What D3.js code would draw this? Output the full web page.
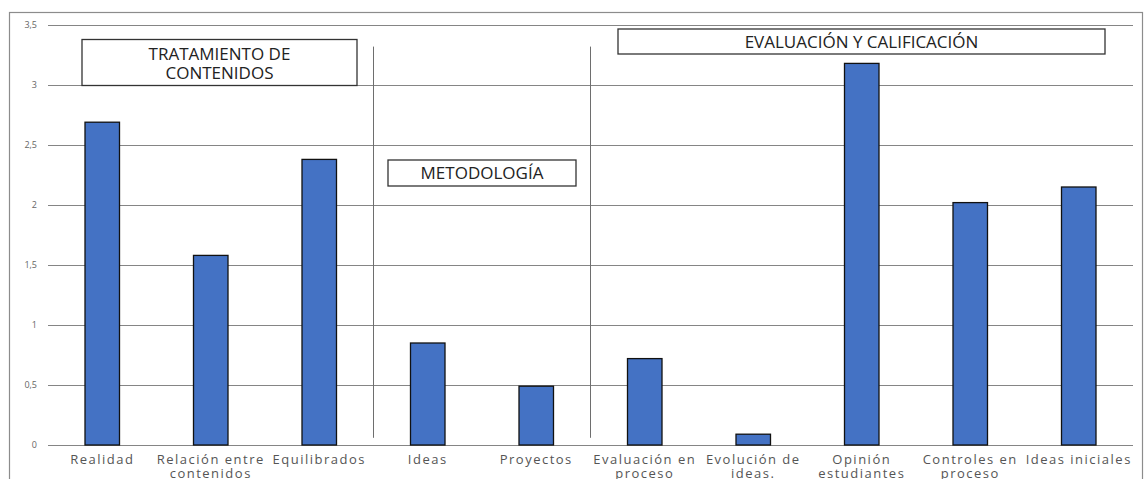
<!DOCTYPE html>
<html>
<head>
<meta charset="utf-8">
<script src="https://cdn.jsdelivr.net/npm/d3@7"></script>
<style>
  body { margin: 0; background: #fff; }
  svg { display: block; }
  .axis text { font-family: "Open Sans", sans-serif; }
  .y-axis text { font-size: 9px; fill: #666; }
  .x-label { font-family: "Open Sans", sans-serif; font-size: 13px; fill: #555; letter-spacing: 1.5px; }
  .box-label { font-family: "Open Sans", sans-serif; font-size: 17px; fill: #222; }
</style>
</head>
<body>
<svg id="chart"></svg>
<script>
// Chart data
const categories = [
  'Realidad', 'Relación entre contenidos', 'Equilibrados', 'Ideas', 'Proyectos',
  'Evaluación en proceso', 'Evolución de ideas.', 'Opinión estudiantes',
  'Controles en proceso', 'Ideas iniciales'
];
// labels broken in two lines like the original
const categoryLines = [
  ['Realidad'], ['Relación entre', 'contenidos'], ['Equilibrados'], ['Ideas'], ['Proyectos'],
  ['Evaluación en', 'proceso'], ['Evolución de', 'ideas.'], ['Opinión', 'estudiantes'],
  ['Controles en', 'proceso'], ['Ideas iniciales']
];
const values = [2.69, 1.58, 2.38, 0.85, 0.49, 0.72, 0.09, 3.18, 2.02, 2.15];
const yTicks = [0, 0.5, 1, 1.5, 2, 2.5, 3, 3.5];

// Group headings and the category after which a separator is drawn
const groupTitles = [['TRATAMIENTO DE', 'CONTENIDOS'], ['METODOLOGÍA'], ['EVALUACIÓN Y CALIFICACIÓN']];
const separatorAfter = ['Equilibrados', 'Proyectos'];

const config = {
  containerWidth: 1146,
  containerHeight: 479,
  margin: { top: 25, right: 13, bottom: 34, left: 48 }
};

const width = config.containerWidth - config.margin.left - config.margin.right;
const height = 445 - config.margin.top;

const svg = d3.select('#chart')
  .attr('width', config.containerWidth)
  .attr('height', config.containerHeight);

// outer frame (runs off the bottom/right like the screenshot)
svg.append('rect')
  .attr('x', 9.5).attr('y', 12.5)
  .attr('width', 1133).attr('height', 520)
  .attr('fill', 'none')
  .attr('stroke', '#8c8c8c')
  .attr('stroke-width', 1.2);

const chart = svg.append('g')
  .attr('transform', `translate(${config.margin.left},${config.margin.top})`);

// Scales
const xScale = d3.scaleBand()
  .domain(categories)
  .range([0, width])
  .paddingInner(0.682)
  .paddingOuter(0.341);

const yScale = d3.scaleLinear()
  .domain([0, 3.5])
  .range([height, 0]);

// Y axis with gridlines, comma decimals
const yAxis = d3.axisLeft(yScale)
  .tickValues(yTicks)
  .tickSize(-width)
  .tickPadding(11)
  .tickFormat(d => String(d).replace('.', ','));

chart.append('g')
  .attr('class', 'axis y-axis')
  .call(yAxis)
  .call(g => g.select('.domain').remove())
  .call(g => g.selectAll('.tick line').attr('stroke', '#858585').attr('stroke-width', 1.1));

// Separators between groups
const step = xScale.step();
chart.selectAll('.separator')
  .data(separatorAfter)
  .enter()
  .append('line')
  .attr('class', 'separator')
  .attr('x1', d => xScale(d) + xScale.bandwidth() / 2 + step / 2)
  .attr('x2', d => xScale(d) + xScale.bandwidth() / 2 + step / 2)
  .attr('y1', yScale(3.32))
  .attr('y2', yScale(0.06))
  .attr('stroke', '#6e6e6e')
  .attr('stroke-width', 1);

// Bars
chart.selectAll('.bar')
  .data(values)
  .enter()
  .append('rect')
  .attr('class', 'bar')
  .attr('x', (d, i) => xScale(categories[i]))
  .attr('width', xScale.bandwidth())
  .attr('y', d => yScale(d))
  .attr('height', d => height - yScale(d))
  .attr('fill', '#4472c4')
  .attr('stroke', '#111')
  .attr('stroke-width', 1.3);

// Category labels (second lines run off the bottom edge, as in the original)
const labels = chart.selectAll('.x-label')
  .data(categoryLines)
  .enter()
  .append('text')
  .attr('class', 'x-label')
  .attr('text-anchor', 'middle')
  .attr('transform', (d, i) => `translate(${xScale(categories[i]) + xScale.bandwidth() / 2},${height + 19})`);

labels.selectAll('tspan')
  .data(d => d)
  .enter()
  .append('tspan')
  .attr('x', 0)
  .attr('dy', (d, i) => i === 0 ? 0 : 14)
  .text(d => d);

// Group heading boxes (annotation positions in px of the plot area)
const boxLayout = [
  { x: 34, y: 14.5, w: 275, h: 46 },
  { x: 340, y: 135, w: 188, h: 26 },
  { x: 570, y: 4, w: 487, h: 25 }
];

const boxes = chart.selectAll('.group-box')
  .data(groupTitles)
  .enter()
  .append('g')
  .attr('class', 'group-box')
  .attr('transform', (d, i) => `translate(${boxLayout[i].x},${boxLayout[i].y})`);

boxes.append('rect')
  .attr('width', (d, i) => boxLayout[i].w)
  .attr('height', (d, i) => boxLayout[i].h)
  .attr('fill', '#fff')
  .attr('stroke', '#333')
  .attr('stroke-width', 1.3);

boxes.append('text')
  .attr('class', 'box-label')
  .attr('text-anchor', 'middle')
  .attr('x', (d, i) => boxLayout[i].w / 2)
  .attr('y', (d, i) => d.length > 1 ? 20.5 : 18.5)
  .selectAll('tspan')
  .data(d => d)
  .enter()
  .append('tspan')
  .attr('x', function () { return d3.select(this.parentNode).attr('x'); })
  .attr('dy', (d, i) => i === 0 ? 0 : 19)
  .text(d => d);
</script>
</body>
</html>
